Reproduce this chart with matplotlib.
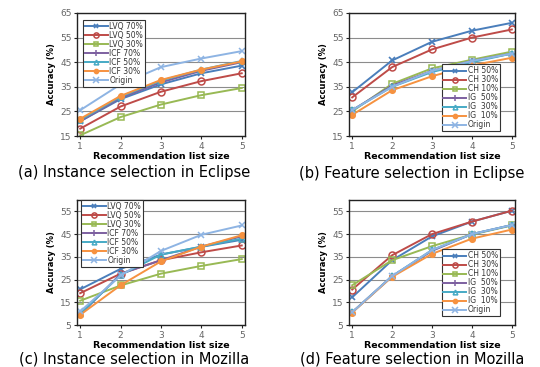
import matplotlib
matplotlib.use("Agg")
import matplotlib.pyplot as plt

x_sizes = [1, 2, 3, 4, 5]

# (a) Instance selection in Eclipse
inst_labels = ["LVQ 70%", "LVQ 50%", "LVQ 30%", "ICF 70%", "ICF 50%", "ICF 30%", "Origin"]
ecl_lvq70 = [21.0, 30.0, 36.0, 40.5, 43.6]
ecl_lvq50 = [18.0, 27.0, 33.0, 37.3, 40.5]
ecl_lvq30 = [15.3, 22.7, 27.8, 31.6, 34.5]
ecl_icf70 = [21.0, 30.5, 36.8, 41.5, 45.0]
ecl_icf50 = [21.5, 31.0, 37.5, 42.0, 45.5]
ecl_icf30 = [22.0, 31.3, 37.8, 42.0, 45.3]
ecl_inst_origin = [25.5, 36.0, 43.0, 46.5, 49.5]

# (b) Feature selection in Eclipse
feat_labels = ["CH 50%", "CH 30%", "CH 10%", "IG  50%", "IG  30%", "IG  10%", "Origin"]
ecl_ch50 = [32.8, 45.7, 53.3, 57.8, 61.0]
ecl_ch30 = [30.7, 43.0, 50.2, 55.0, 58.3]
ecl_ch10 = [25.0, 36.2, 42.5, 46.0, 49.3]
ecl_ig50 = [25.5, 35.5, 41.5, 45.5, 48.5]
ecl_ig30 = [25.5, 35.0, 41.0, 45.0, 48.5]
ecl_ig10 = [23.6, 33.6, 39.3, 43.7, 46.8]
ecl_feat_origin = [25.5, 35.0, 41.5, 45.5, 48.5]

# (c) Instance selection in Mozilla
moz_lvq70 = [20.7, 29.7, 36.0, 39.4, 42.5]
moz_lvq50 = [19.0, 27.6, 33.5, 37.0, 40.0]
moz_lvq30 = [15.7, 22.4, 27.6, 31.0, 34.0]
moz_icf70 = [9.5, 27.5, 33.5, 39.5, 44.0]
moz_icf50 = [10.0, 27.0, 36.0, 39.5, 43.0]
moz_icf30 = [9.5, 22.5, 33.0, 39.5, 44.5]
moz_inst_origin = [11.0, 26.8, 37.6, 44.7, 48.8]

# (d) Feature selection in Mozilla
moz_ch50 = [17.2, 33.5, 44.0, 50.5, 55.3]
moz_ch30 = [20.6, 35.7, 45.0, 50.5, 55.3]
moz_ch10 = [22.5, 33.5, 39.7, 44.8, 48.8]
moz_ig50 = [10.6, 26.5, 37.6, 45.0, 49.0]
moz_ig30 = [10.6, 26.5, 38.0, 45.0, 49.0]
moz_ig10 = [10.5, 26.2, 36.3, 43.0, 47.0]
moz_feat_origin = [10.6, 26.5, 38.0, 45.0, 49.0]

captions = ["(a) Instance selection in Eclipse", "(b) Feature selection in Eclipse",
            "(c) Instance selection in Mozilla", "(d) Feature selection in Mozilla"]
xlabel = "Recommendation list size"
ylabel = "Accuracy (%)"

colors = ["#4A7EBB", "#BE4B48", "#98B954", "#7D60A0", "#46AAC5", "#F69240", "#8EB4E3"]
styles = [
    dict(marker="x", ms=4, mew=1.2, mfc=colors[0]),
    dict(marker="o", ms=5, mew=1.1, mfc="none"),
    dict(marker="s", ms=4.5, mew=1.1, mfc="none"),
    dict(marker="+", ms=5, mew=1.1),
    dict(marker="^", ms=4.5, mew=1.1, mfc="none"),
    dict(marker="o", ms=4, mew=1.1, mfc=colors[5]),
    dict(marker="x", ms=5, mew=1.1),
]

fig = plt.figure(figsize=(5.4, 3.67), dpi=100)

panels = [
    dict(rect=[0.1426, 0.6294, 0.311, 0.3352], series=[ecl_lvq70, ecl_lvq50, ecl_lvq30, ecl_icf70, ecl_icf50, ecl_icf30, ecl_inst_origin],
         labels=inst_labels, ylim=(15, 65), yticks=[15, 25, 35, 45, 55, 65], leg=("upper left", (0.036, 0.944)),
         cap=(0.248, 0.529)),
    dict(rect=[0.6463, 0.6294, 0.3074, 0.3352], series=[ecl_ch50, ecl_ch30, ecl_ch10, ecl_ig50, ecl_ig30, ecl_ig10, ecl_feat_origin],
         labels=feat_labels, ylim=(15, 65), yticks=[15, 25, 35, 45, 55, 65], leg=("lower right", (0.91, 0.04)),
         cap=(0.763, 0.527)),
    dict(rect=[0.1426, 0.1144, 0.311, 0.3406], series=[moz_lvq70, moz_lvq50, moz_lvq30, moz_icf70, moz_icf50, moz_icf30, moz_inst_origin],
         labels=inst_labels, ylim=(5, 60), yticks=[5, 15, 25, 35, 45, 55], leg=("upper left", (0.024, 1.0)),
         cap=(0.248, 0.022)),
    dict(rect=[0.6463, 0.1144, 0.3074, 0.3406], series=[moz_ch50, moz_ch30, moz_ch10, moz_ig50, moz_ig30, moz_ig10, moz_feat_origin],
         labels=feat_labels, ylim=(5, 60), yticks=[5, 15, 25, 35, 45, 55], leg=("lower right", (0.91, 0.07)),
         cap=(0.763, 0.022)),
]

for p, cap in zip(panels, captions):
    ax = fig.add_axes(p["rect"])
    for vals, lab, c, st in zip(p["series"], p["labels"], colors, styles):
        ax.plot(x_sizes, vals, color=c, lw=1.4, label=lab, mec=c, **st)
    ax.set_xlim(0.92, 5.08)
    ax.set_ylim(*p["ylim"])
    ax.set_yticks(p["yticks"])
    ax.set_xticks(x_sizes)
    ax.yaxis.grid(True, color="#8c8c8c", lw=0.8)
    ax.set_axisbelow(True)
    for s in ax.spines.values():
        s.set_color("#222222")
        s.set_linewidth(1.0)
    ax.tick_params(labelsize=6.5, colors="#666666", length=2, width=0.8, pad=2)
    ax.tick_params(axis="both", color="#222222")
    ax.set_xlabel(xlabel, fontsize=6.8, fontweight="bold", labelpad=1)
    ax.set_ylabel(ylabel, fontsize=6, fontweight="bold", labelpad=3)
    loc, anchor = p["leg"]
    leg = ax.legend(loc=loc, bbox_to_anchor=anchor, fontsize=5.5, labelspacing=0.0,
                    handlelength=3.0, handletextpad=0.2, borderpad=0.25, borderaxespad=0,
                    markerscale=0.75, frameon=True, fancybox=False, edgecolor="#333333", framealpha=1)
    leg.get_frame().set_linewidth(0.8)
    for t in leg.get_texts():
        t.set_color("#333333")
    fig.text(p["cap"][0], p["cap"][1], cap, fontsize=10.5, ha="center", va="center")

fig.savefig("out.png", dpi=100)
